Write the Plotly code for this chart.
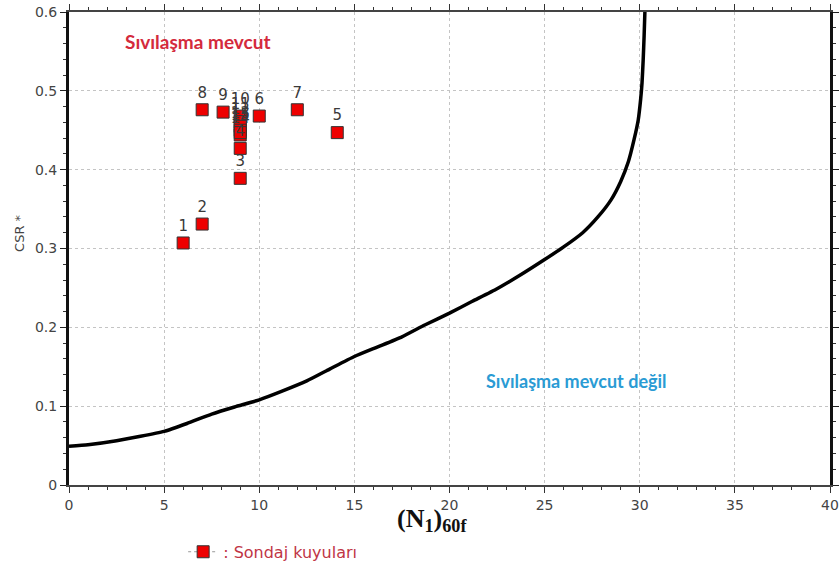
import plotly.graph_objects as go

# Well data (N1)60f vs CSR*
well_ids = ["1", "2", "3", "4", "5", "6", "7", "8", "9", "10", "11", "12", "13", "14", "15"]
well_n = [6, 7, 9, 9, 14.1, 10, 12, 7, 8.1, 9, 9, 9, 9, 9, 9]
well_csr = [0.307, 0.331, 0.389, 0.427, 0.447, 0.468, 0.476, 0.476, 0.473,
            0.468, 0.461, 0.455, 0.450, 0.444, 0.447]

# Boundary curve
curve_n = [0, 1, 2.5, 5, 6.2, 7.5, 8.7, 10, 11.2, 12.5, 13.7, 15, 16.2, 17.5, 18.7,
           20, 21.2, 22.5, 23.7, 25, 26, 27, 27.8, 28.5, 29.0, 29.4, 29.7, 29.92,
           30.05, 30.12, 30.18, 30.23, 30.27]
curve_csr = [0.049, 0.051, 0.056, 0.068, 0.078, 0.090, 0.099, 0.108, 0.119, 0.132,
             0.147, 0.163, 0.175, 0.188, 0.203, 0.218, 0.233, 0.249, 0.266, 0.286,
             0.302, 0.320, 0.340, 0.362, 0.385, 0.410, 0.438, 0.463, 0.490, 0.510,
             0.539, 0.570, 0.600]

x_ticks = [0, 5, 10, 15, 20, 25, 30, 35, 40]
y_ticks = [0, 0.1, 0.2, 0.3, 0.4, 0.5, 0.6]
y_tick_text = ["0", "0.1", "0.2", "0.3", "0.4", "0.5", "0.6"]

fig = go.Figure()

fig.add_trace(go.Scatter(
    x=curve_n, y=curve_csr, mode="lines",
    line=dict(color="black", width=3.5, shape="spline", smoothing=0.5),
    showlegend=False, hoverinfo="skip",
))

fig.add_trace(go.Scatter(
    x=well_n, y=well_csr, mode="markers+text",
    text=well_ids, textposition="top center",
    textfont=dict(family="DejaVu Sans", size=15, color="#3a3a3a"),
    marker=dict(symbol="square", size=12, color="#ee0000",
                line=dict(color="#333333", width=1)),
    showlegend=False,
))

# legend entry
fig.add_trace(go.Scatter(
    x=[None], y=[None], mode="lines+markers",
    name=": Sondaj kuyuları",
    line=dict(color="#999999", width=1, dash="dot"),
    marker=dict(symbol="square", size=12, color="#ee0000",
                line=dict(color="#333333", width=1)),
))

fig.add_annotation(x=6.73, y=0.562, xref="x", yref="y", text="<b>Sıvılaşma mevcut</b>",
                   showarrow=False, font=dict(family="Lato", size=19, color="#d42a3c"))
fig.add_annotation(x=26.67, y=0.132, xref="x", yref="y", text="<b>Sıvılaşma mevcut değil</b>",
                   showarrow=False, font=dict(family="Lato", size=18, color="#2a9bd4"))
fig.add_annotation(x=-0.0644, y=0.533, xref="paper", yref="paper", text="CSR *",
                   xanchor="center", yanchor="middle",
                   textangle=-90, showarrow=False,
                   font=dict(family="DejaVu Sans", size=13, color="#444444"))
fig.add_annotation(x=0.477, y=-0.074, xref="paper", yref="paper",
                   text="<b>(N<sub>1</sub>)<sub>60f</sub></b>",
                   xanchor="center", yanchor="middle", showarrow=False,
                   font=dict(family="Liberation Serif", size=26, color="#111111"))

fig.update_layout(
    width=839, height=563,
    margin=dict(l=69, r=9, t=12, b=78),
    plot_bgcolor="white", paper_bgcolor="white",
    font=dict(family="DejaVu Sans", size=13, color="#444444"),
    showlegend=True,
    legend=dict(x=0.150, y=0.050, xref="paper", yref="container",
                xanchor="left", yanchor="top",
                font=dict(family="DejaVu Sans", size=16, color="#c03545"),
                bgcolor="rgba(0,0,0,0)"),
    xaxis=dict(
        range=[0, 40], tickvals=x_ticks, ticks="outside", ticklen=6,
        tickcolor="#333333", showline=True, linecolor="#444444", linewidth=2,
        mirror="ticks", showgrid=True, gridcolor="#c4c4c4", griddash="dot",
        gridwidth=1, zeroline=False, automargin=False,
        minor=dict(dtick=1, ticks="outside", ticklen=3, tickcolor="#333333", showgrid=False),
        tickfont=dict(family="DejaVu Sans", size=14, color="#444444"),
    ),
    yaxis=dict(
        range=[0, 0.6], tickvals=y_ticks, ticktext=y_tick_text, ticks="outside", ticklen=6,
        tickcolor="#222222", showline=True, linecolor="#111111", linewidth=3,
        mirror="ticks", showgrid=True, gridcolor="#c4c4c4", griddash="dot",
        gridwidth=1, zeroline=False, automargin=False,
        minor=dict(dtick=0.02, ticks="outside", ticklen=3, tickcolor="#333333", showgrid=False),
        tickfont=dict(family="DejaVu Sans", size=14, color="#444444"),
    ),
)

fig.write_html("out.html")
